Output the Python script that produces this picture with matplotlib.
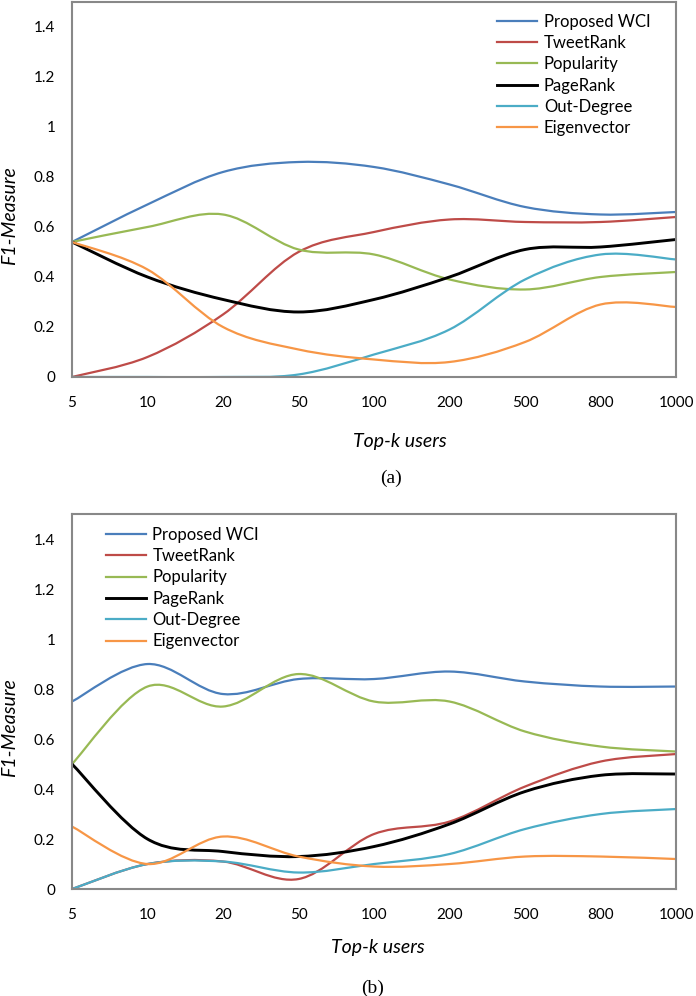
import numpy as np
import matplotlib
matplotlib.use("Agg")
import matplotlib.pyplot as plt
from matplotlib.path import Path
from matplotlib.patches import PathPatch
from matplotlib.lines import Line2D

# --- data ---
top_k = ["5", "10", "20", "50", "100", "200", "500", "800", "1000"]
methods = ["Proposed WCI", "TweetRank", "Popularity", "PageRank", "Out-Degree", "Eigenvector"]

wci_a = [0.54, 0.69, 0.82, 0.86, 0.84, 0.77, 0.68, 0.65, 0.66]
tweetrank_a = [0.00, 0.08, 0.25, 0.50, 0.58, 0.63, 0.62, 0.62, 0.64]
popularity_a = [0.54, 0.60, 0.65, 0.51, 0.49, 0.39, 0.35, 0.40, 0.42]
pagerank_a = [0.54, 0.40, 0.31, 0.26, 0.31, 0.40, 0.51, 0.52, 0.55]
outdegree_a = [0.00, 0.00, 0.00, 0.01, 0.09, 0.19, 0.39, 0.49, 0.47]
eigen_a = [0.54, 0.43, 0.20, 0.11, 0.07, 0.06, 0.14, 0.29, 0.28]

wci_b = [0.75, 0.90, 0.78, 0.84, 0.84, 0.87, 0.83, 0.81, 0.81]
tweetrank_b = [0.00, 0.10, 0.11, 0.04, 0.22, 0.27, 0.41, 0.51, 0.54]
popularity_b = [0.50, 0.81, 0.73, 0.86, 0.75, 0.75, 0.63, 0.57, 0.55]
pagerank_b = [0.50, 0.20, 0.15, 0.13, 0.17, 0.26, 0.39, 0.455, 0.46]
outdegree_b = [0.00, 0.10, 0.11, 0.066, 0.10, 0.14, 0.24, 0.30, 0.32]
eigen_b = [0.25, 0.10, 0.21, 0.13, 0.09, 0.10, 0.13, 0.13, 0.12]

colors = ["#4A7EBB", "#BE4B48", "#98B954", "#000000", "#4BACC6", "#F79646"]
widths = [1.6, 1.6, 1.6, 2.1, 1.6, 1.6]

TICK_FONT = "Lato"


def smooth_path(xs, ys):
    # Excel-style smoothed line: cubic Bezier through every data point
    pts = np.column_stack([xs, ys]).astype(float)
    padded = np.vstack([pts[0], pts, pts[-1]])
    verts = [pts[0]]
    codes = [Path.MOVETO]
    for i in range(len(pts) - 1):
        p0, p1, p2, p3 = padded[i], padded[i + 1], padded[i + 2], padded[i + 3]
        verts += [p1 + (p2 - p0) / 6, p2 - (p3 - p1) / 6, p2]
        codes += [Path.CURVE4] * 3
    return Path(verts, codes)


def draw_panel(ax, series, legend_anchor, xlabel_pos, caption, caption_pos):
    x = np.arange(len(top_k))
    handles = []
    for ys, name, c, lw in zip(series, methods, colors, widths):
        ax.add_patch(PathPatch(smooth_path(x, ys), facecolor="none", edgecolor=c, lw=lw,
                               capstyle="round", joinstyle="round"))
        handles.append(Line2D([], [], color=c, lw=lw))
    ax.set_xlim(0, len(top_k) - 1)
    ax.set_ylim(0, 1.5)
    ax.set_xticks(x)
    ax.set_xticklabels(top_k, fontfamily=TICK_FONT, fontsize=11)
    ax.set_yticks(np.arange(0, 1.41, 0.2))
    ax.set_yticklabels(["0", "0.2", "0.4", "0.6", "0.8", "1", "1.2", "1.4"],
                       fontfamily=TICK_FONT, fontsize=11)
    ax.tick_params(axis="y", length=0, pad=12)
    ax.tick_params(axis="x", length=0, pad=14)
    for s in ax.spines.values():
        s.set_color("#888888")
        s.set_linewidth(1.5)
    ax.set_ylabel("F1-Measure", fontfamily=TICK_FONT, fontstyle="italic", fontsize=14)
    ax.yaxis.set_label_coords(-0.089, 0.43)
    ax.text(xlabel_pos[0], xlabel_pos[1], "Top-k users", transform=ax.transAxes,
            ha="center", va="center", fontfamily=TICK_FONT, fontstyle="italic", fontsize=14)
    ax.text(caption_pos[0], caption_pos[1], caption, transform=ax.transAxes,
            ha="center", va="center", fontfamily="Liberation Serif", fontsize=14)
    ax.legend(handles, methods, loc="upper left", bbox_to_anchor=legend_anchor,
              frameon=False, borderpad=0, borderaxespad=0, handlelength=2.4,
              handletextpad=0.4, labelspacing=0.32,
              prop={"family": TICK_FONT, "size": 12})


fig = plt.figure(figsize=(6.96, 9.96), dpi=100)
ax_a = fig.add_axes([0.1034, 0.6215, 0.868, 0.3765])
ax_b = fig.add_axes([0.1034, 0.1074, 0.868, 0.3765])

draw_panel(ax_a, [wci_a, tweetrank_a, popularity_a, pagerank_a, outdegree_a, eigen_a],
           (0.704, 0.969), (0.542, -0.173), "(a)", (0.528, -0.269))
draw_panel(ax_b, [wci_b, tweetrank_b, popularity_b, pagerank_b, outdegree_b, eigen_b],
           (0.056, 0.966), (0.507, -0.157), "(b)", (0.497, -0.264))

fig.savefig("out.png", dpi=100)
